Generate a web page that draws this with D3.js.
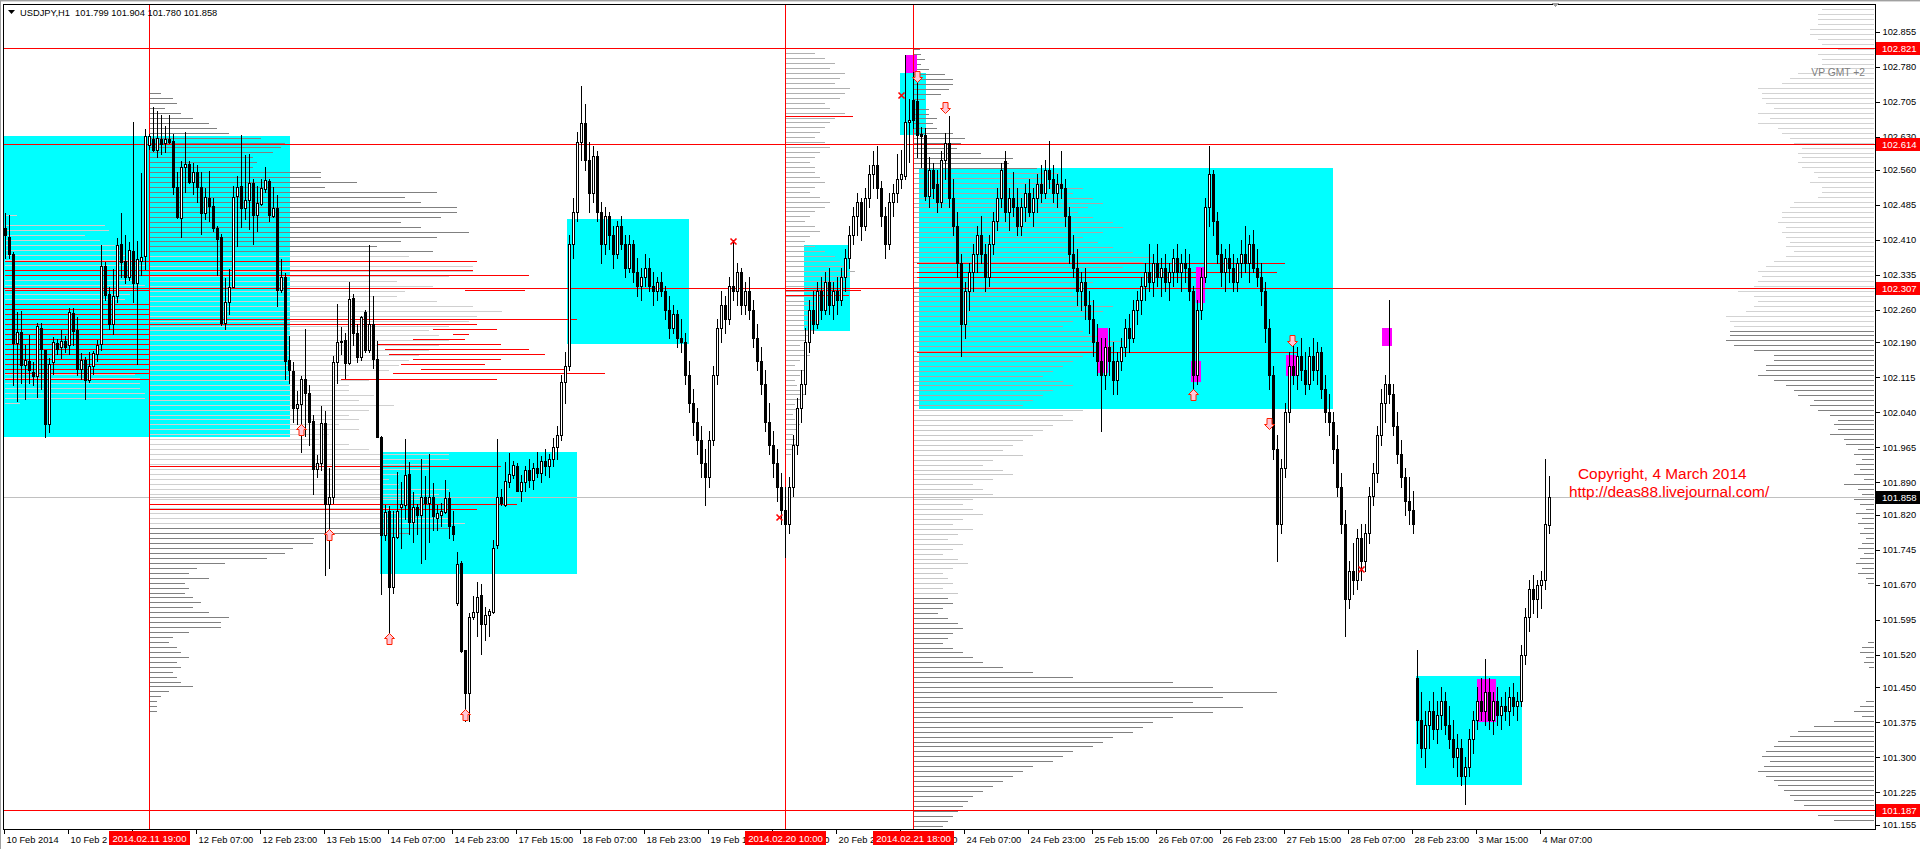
<!DOCTYPE html>
<html><head><meta charset="utf-8">
<script src="https://cdn.jsdelivr.net/npm/d3@7"></script>
<style>body{margin:0;background:#fff;overflow:hidden}svg{display:block}</style>
</head><body><svg id="c" width="1920" height="849"></svg>
<script>
// ---------- DATA ----------
const symbolTitle = "USDJPY,H1  101.799 101.904 101.780 101.858";
// hourly candles [open, high, low, close], bar 0 = 10 Feb 2014 07:00
const ohlc = [
[102.434,102.468,102.370,102.419],[102.416,102.463,102.370,102.379],[102.380,102.383,102.099,102.188],[102.188,102.254,102.063,102.212],
[102.212,102.256,102.103,102.141],[102.141,102.183,102.068,102.151],[102.149,102.205,102.103,102.130],[102.127,102.148,102.099,102.117],
[102.117,102.232,102.072,102.225],[102.221,102.232,102.090,102.176],[102.174,102.174,101.986,102.014],[102.014,102.157,101.997,102.144],
[102.148,102.201,102.121,102.190],[102.188,102.197,102.165,102.176],[102.179,102.216,102.157,102.192],[102.192,102.203,102.170,102.179],
[102.183,102.263,102.165,102.254],[102.252,102.263,102.183,102.213],[102.216,102.245,102.119,102.132],[102.133,102.167,102.112,102.151],
[102.151,102.158,102.068,102.110],[102.110,102.170,102.105,102.139],[102.139,102.172,102.121,102.167],[102.165,102.194,102.149,102.183],
[102.187,102.398,102.174,102.353],[102.353,102.361,102.281,102.292],[102.293,102.308,102.219,102.228],[102.228,102.348,102.208,102.288],
[102.288,102.414,102.277,102.398],[102.400,102.468,102.330,102.361],[102.364,102.419,102.317,102.330],[102.330,102.405,102.324,102.388],
[102.385,102.663,102.277,102.317],[102.317,102.407,102.144,102.368],[102.364,102.552,102.334,102.372],[102.374,102.647,102.348,102.632],
[102.612,102.637,102.605,102.632],[102.626,102.694,102.599,102.603],[102.601,102.686,102.588,102.628],[102.626,102.677,102.594,102.614],
[102.617,102.654,102.597,102.626],[102.626,102.677,102.617,102.619],[102.621,102.637,102.508,102.523],[102.523,102.555,102.457,102.459],
[102.457,102.579,102.416,102.565],[102.565,102.641,102.512,102.571],[102.571,102.579,102.532,102.534],[102.534,102.574,102.508,102.555],
[102.555,102.570,102.490,102.523],[102.523,102.555,102.421,102.468],[102.468,102.521,102.454,102.501],[102.500,102.557,102.450,102.483],
[102.483,102.499,102.428,102.434],[102.434,102.439,102.334,102.412],[102.416,102.423,102.226,102.232],[102.232,102.327,102.219,102.277],
[102.277,102.348,102.250,102.309],[102.309,102.525,102.309,102.501],[102.503,102.546,102.397,102.523],[102.525,102.634,102.437,102.478],
[102.478,102.592,102.454,102.494],[102.494,102.594,102.432,102.532],[102.532,102.539,102.401,102.463],[102.463,102.525,102.428,102.488],
[102.487,102.539,102.485,102.521],[102.519,102.565,102.512,102.538],[102.536,102.539,102.450,102.462],[102.460,102.523,102.459,102.478],
[102.478,102.505,102.268,102.301],[102.301,102.368,102.297,102.330],[102.330,102.339,102.112,102.149],[102.151,102.203,102.103,102.130],
[102.128,102.148,102.019,102.048],[102.048,102.085,102.014,102.057],[102.057,102.117,101.954,102.112],[102.112,102.219,101.988,102.081],
[102.081,102.099,101.970,102.019],[102.021,102.034,101.865,101.919],[101.919,101.948,101.900,101.930],[101.930,102.054,101.917,102.016],
[102.016,102.043,101.692,101.844],[101.844,101.921,101.705,101.859],[101.859,102.161,101.845,102.148],[102.148,102.272,102.103,102.190],
[102.190,102.223,102.165,102.192],[102.194,102.210,102.114,102.145],[102.145,102.318,102.143,102.283],[102.285,102.294,102.183,102.210],
[102.210,102.228,102.148,102.158],[102.158,102.247,102.152,102.245],[102.254,102.259,102.170,102.173],[102.173,102.398,102.170,102.228],
[102.228,102.290,102.134,102.155],[102.155,102.192,101.986,101.986],[101.986,101.988,101.650,101.776],[101.776,101.841,101.767,101.826],
[101.828,101.838,101.561,101.666],[101.666,101.828,101.652,101.772],[101.772,101.912,101.770,101.829],[101.836,101.890,101.748,101.844],
[101.841,101.983,101.810,101.906],[101.908,101.934,101.779,101.805],[101.805,101.868,101.761,101.836],[101.836,101.844,101.779,101.820],
[101.819,101.939,101.716,101.859],[101.859,101.903,101.725,101.845],[101.845,101.950,101.761,101.859],[101.859,101.888,101.788,101.817],
[101.814,101.841,101.788,101.823],[101.819,101.845,101.797,101.828],[101.826,101.894,101.823,101.856],[101.856,101.868,101.770,101.796],
[101.796,101.828,101.765,101.779],[101.630,101.740,101.627,101.714],[101.717,101.721,101.525,101.527],[101.530,101.530,101.379,101.438],
[101.438,101.610,101.379,101.601],[101.601,101.645,101.596,101.612],[101.612,101.676,101.561,101.643],[101.648,101.672,101.521,101.586],
[101.586,101.623,101.552,101.605],[101.605,101.619,101.561,101.614],[101.612,101.767,101.610,101.749],[101.755,101.983,101.748,101.859],
[101.859,101.876,101.841,101.845],[101.841,101.934,101.838,101.892],[101.890,101.952,101.879,101.908],[101.906,101.936,101.899,101.927],
[101.925,101.930,101.872,101.872],
// 129
[101.872,101.905,101.850,101.890],[101.890,101.925,101.870,101.915],[101.915,101.940,101.880,101.895],[101.895,101.930,101.875,101.920],
[101.920,101.955,101.900,101.910],[101.910,101.945,101.890,101.935],[101.935,101.960,101.905,101.925],[101.925,101.950,101.900,101.940],
[101.940,101.985,101.925,101.965],[101.965,102.010,101.940,101.990],[101.990,102.120,101.980,102.105],[102.105,102.170,102.060,102.140],
// 141
[102.140,102.420,102.130,102.400],[102.400,102.500,102.370,102.470],[102.470,102.640,102.450,102.620],[102.620,102.740,102.580,102.660],
[102.660,102.700,102.560,102.580],[102.580,102.620,102.470,102.510],[102.510,102.610,102.490,102.590],[102.590,102.600,102.450,102.470],
[102.470,102.490,102.360,102.400],[102.400,102.480,102.380,102.460],[102.460,102.470,102.390,102.420],[102.420,102.440,102.350,102.380],
[102.380,102.450,102.370,102.440],[102.440,102.460,102.390,102.400],[102.400,102.420,102.330,102.350],[102.350,102.420,102.340,102.400],
[102.400,102.410,102.320,102.340],[102.340,102.370,102.290,102.310],[102.310,102.350,102.280,102.330],[102.330,102.380,102.310,102.350],
// 161
[102.350,102.370,102.300,102.310],[102.310,102.340,102.270,102.300],[102.300,102.330,102.280,102.320],[102.320,102.340,102.290,102.300],
[102.300,102.310,102.240,102.260],[102.260,102.290,102.200,102.220],[102.220,102.270,102.210,102.250],[102.250,102.260,102.180,102.200],
[102.200,102.240,102.170,102.190],[102.190,102.210,102.100,102.120],[102.120,102.150,102.040,102.060],[102.060,102.090,101.990,102.020],
[102.020,102.050,101.950,101.980],[101.980,102.010,101.900,101.930],[101.930,101.960,101.840,101.900],[101.900,102.000,101.880,101.980],
[101.980,102.140,101.970,102.120],[102.120,102.240,102.100,102.220],[102.220,102.300,102.190,102.270],[102.270,102.290,102.210,102.240],
// 181
[102.240,102.330,102.230,102.310],[102.310,102.410,102.280,102.300],[102.300,102.360,102.270,102.340],[102.340,102.350,102.250,102.270],
[102.270,102.320,102.250,102.300],[102.300,102.330,102.240,102.260],[102.260,102.280,102.180,102.200],[102.200,102.230,102.130,102.150],
[102.150,102.180,102.080,102.100],[102.100,102.130,102.000,102.020],[102.020,102.060,101.950,101.970],[101.970,102.000,101.900,101.930],
[101.930,101.960,101.850,101.880],[101.880,101.910,101.800,101.830],[101.830,101.880,101.730,101.800],[101.800,101.900,101.780,101.880],
[101.880,101.990,101.860,101.970],[101.970,102.070,101.950,102.050],[102.050,102.130,102.020,102.100],[102.100,102.220,102.080,102.190],
// 201
[102.190,102.280,102.170,102.260],[102.260,102.300,102.210,102.230],[102.230,102.320,102.220,102.300],[102.300,102.330,102.240,102.260],
[102.260,102.340,102.250,102.320],[102.320,102.350,102.250,102.270],[102.270,102.320,102.240,102.300],[102.300,102.330,102.250,102.280],
[102.280,102.350,102.270,102.330],[102.330,102.390,102.300,102.370],[102.370,102.440,102.350,102.420],[102.420,102.480,102.400,102.460],
[102.460,102.510,102.420,102.490],[102.490,102.500,102.410,102.440],[102.440,102.520,102.430,102.500],[102.500,102.570,102.480,102.550],
[102.550,102.600,102.520,102.570],[102.570,102.610,102.500,102.520],[102.520,102.535,102.440,102.460],[102.460,102.480,102.370,102.400],
// 221
[102.400,102.510,102.390,102.490],[102.490,102.530,102.460,102.510],[102.510,102.594,102.490,102.540],[102.540,102.603,102.520,102.551],
[102.546,102.806,102.540,102.663],[102.663,102.711,102.576,102.667],[102.709,102.770,102.650,102.666],[102.707,102.750,102.587,102.634],
[102.636,102.651,102.566,102.632],[102.634,102.649,102.495,102.503],[102.503,102.587,102.480,102.560],[102.560,102.575,102.500,102.520],
// 233 (24 Feb)
[102.530,102.560,102.470,102.490],[102.490,102.600,102.480,102.580],[102.580,102.638,102.540,102.617],[102.617,102.675,102.480,102.500],
[102.500,102.540,102.420,102.440],[102.440,102.470,102.330,102.360],[102.360,102.380,102.160,102.230],[102.230,102.320,102.200,102.300],
// 241
[102.300,102.360,102.260,102.340],[102.340,102.400,102.300,102.380],[102.380,102.440,102.340,102.420],[102.420,102.460,102.360,102.380],
[102.380,102.400,102.300,102.330],[102.330,102.420,102.310,102.400],[102.400,102.470,102.380,102.450],[102.450,102.520,102.430,102.500],
[102.500,102.574,102.480,102.560],[102.578,102.600,102.450,102.470],[102.470,102.520,102.430,102.500],[102.500,102.555,102.460,102.480],
[102.480,102.520,102.420,102.440],[102.440,102.500,102.420,102.480],[102.480,102.530,102.450,102.510],[102.510,102.540,102.460,102.470],
[102.470,102.520,102.440,102.500],[102.500,102.550,102.470,102.530],[102.530,102.570,102.490,102.510],[102.510,102.580,102.500,102.560],
// 261
[102.560,102.621,102.520,102.540],[102.540,102.570,102.490,102.510],[102.510,102.550,102.480,102.530],[102.530,102.600,102.500,102.520],
[102.520,102.540,102.440,102.460],[102.460,102.480,102.360,102.380],[102.380,102.420,102.330,102.350],[102.350,102.390,102.270,102.300],
[102.300,102.340,102.260,102.320],[102.320,102.350,102.240,102.270],[102.270,102.300,102.210,102.240],[102.240,102.280,102.160,102.190],
[102.190,102.230,102.120,102.150],[102.150,102.200,102.000,102.120],[102.120,102.200,102.090,102.180],[102.180,102.220,102.120,102.150],
[102.150,102.190,102.080,102.110],[102.110,102.170,102.080,102.150],[102.150,102.200,102.130,102.180],[102.180,102.240,102.160,102.220],
// 281
[102.220,102.250,102.170,102.200],[102.200,102.280,102.190,102.260],[102.260,102.300,102.230,102.280],[102.280,102.330,102.250,102.310],
[102.310,102.360,102.280,102.340],[102.340,102.400,102.300,102.320],[102.320,102.380,102.290,102.360],[102.360,102.400,102.310,102.330],
[102.330,102.370,102.290,102.350],[102.350,102.380,102.300,102.320],[102.320,102.360,102.280,102.340],[102.340,102.390,102.310,102.370],
[102.370,102.400,102.320,102.340],[102.340,102.380,102.300,102.360],[102.360,102.390,102.320,102.350],[102.350,102.380,102.280,102.300],
[102.300,102.310,102.080,102.120],[102.120,102.280,102.100,102.260],[102.260,102.350,102.240,102.330],[102.330,102.500,102.320,102.480],
// 301
[102.480,102.610,102.440,102.550],[102.550,102.560,102.420,102.450],[102.450,102.470,102.360,102.380],[102.380,102.400,102.310,102.340],
[102.340,102.390,102.300,102.370],[102.370,102.400,102.320,102.350],[102.350,102.380,102.300,102.320],[102.320,102.370,102.300,102.360],
[102.360,102.410,102.330,102.380],[102.380,102.440,102.340,102.360],[102.360,102.420,102.320,102.400],[102.400,102.430,102.340,102.350],
[102.350,102.390,102.310,102.330],[102.330,102.360,102.270,102.300],[102.300,102.320,102.190,102.220],[102.220,102.240,102.090,102.120],
[102.120,102.140,101.940,101.960],[101.960,101.990,101.720,101.800],[101.800,101.940,101.780,101.920],[101.920,102.060,101.900,102.040],
// 321
[102.040,102.170,102.020,102.140],[102.140,102.190,102.100,102.120],[102.120,102.180,102.090,102.160],[102.160,102.200,102.110,102.130],
[102.130,102.170,102.080,102.100],[102.100,102.180,102.090,102.160],[102.160,102.200,102.110,102.130],[102.130,102.190,102.100,102.170],
[102.170,102.180,102.070,102.090],[102.090,102.120,102.020,102.040],[102.040,102.080,101.990,102.020],[102.020,102.040,101.930,101.960],
[101.960,101.990,101.860,101.880],[101.880,101.910,101.780,101.800],[101.800,101.830,101.560,101.640],[101.640,101.720,101.620,101.700],
[101.700,101.760,101.650,101.680],[101.680,101.790,101.660,101.770],[101.770,101.800,101.680,101.720],[101.720,101.800,101.700,101.780],
// 341
[101.780,101.880,101.760,101.860],[101.860,101.930,101.840,101.910],[101.910,102.010,101.890,101.990],[101.990,102.090,101.970,102.060],
[102.060,102.120,102.020,102.100],[102.100,102.280,102.060,102.080],[102.080,102.100,101.990,102.010],[102.010,102.040,101.930,101.950],
[101.950,101.980,101.880,101.900],[101.900,101.920,101.820,101.850],[101.850,101.900,101.800,101.830],[101.830,101.870,101.780,101.800],
// 353 (3 Mar)
[101.470,101.530,101.330,101.380],[101.380,101.440,101.300,101.320],[101.320,101.400,101.280,101.370],[101.370,101.420,101.320,101.400],
[101.400,101.440,101.340,101.360],[101.360,101.420,101.330,101.390],[101.390,101.450,101.360,101.420],[101.420,101.440,101.350,101.370],
// 361
[101.370,101.410,101.320,101.340],[101.340,101.380,101.280,101.300],[101.300,101.350,101.260,101.320],[101.320,101.340,101.240,101.260],
[101.260,101.300,101.200,101.280],[101.280,101.360,101.260,101.340],[101.340,101.400,101.310,101.380],[101.380,101.450,101.360,101.420],
[101.420,101.470,101.380,101.400],[101.400,101.510,101.370,101.440],[101.440,101.470,101.360,101.380],[101.380,101.440,101.350,101.420],
[101.420,101.450,101.370,101.390],[101.390,101.430,101.360,101.410],[101.410,101.440,101.380,101.400],[101.400,101.450,101.370,101.430],
// 377 (4 Mar)
[101.430,101.460,101.390,101.410],[101.410,101.440,101.380,101.420],[101.420,101.540,101.410,101.520],[101.520,101.620,101.500,101.600],
[101.600,101.680,101.570,101.660],[101.660,101.690,101.610,101.640],[101.640,101.680,101.600,101.670],[101.670,101.700,101.620,101.680],
[101.680,101.940,101.660,101.800],[101.799,101.904,101.780,101.858]
];
const priceTicks = [102.855,102.780,102.705,102.630,102.560,102.485,102.410,102.335,102.260,102.190,102.115,102.040,101.965,101.890,101.820,101.745,101.670,101.595,101.520,101.450,101.375,101.300,101.225,101.155];
const timeTickBars = [0,16,32,48,64,80,96,112,128,144,160,176,192,208,224,240,256,272,288,304,320,336,352,368,384];
const timeTickLabels = ["10 Feb 2014","10 Feb 23:00","11 Feb 15:00","12 Feb 07:00","12 Feb 23:00","13 Feb 15:00","14 Feb 07:00","14 Feb 23:00","17 Feb 15:00","18 Feb 07:00","18 Feb 23:00","19 Feb 15:00","20 Feb 07:00","20 Feb 23:00","21 Feb 15:00","24 Feb 07:00","24 Feb 23:00","25 Feb 15:00","26 Feb 07:00","26 Feb 23:00","27 Feb 15:00","28 Feb 07:00","28 Feb 23:00","3 Mar 15:00","4 Mar 07:00"];
const markerBars = [36,195,227];
const markerLabels = ["2014.02.11 19:00","2014.02.20 10:00","2014.02.21 18:00"];
const levelPrices = [102.821,102.614,102.307,101.187];
const lastPrice = 101.858;
// value-area boxes [startBar, endBar, top, bottom]
const cyanBoxes = [[-0.25,71,102.632,101.986],[94,142.75,101.955,101.694],[140.75,170.75,102.454,102.186],[200,211,102.398,102.215],[224,230,102.767,102.634],[228.75,331.75,102.564,102.047],[353,379,101.475,101.241]];
const magentaBoxes = [[225,228,102.806,102.767],[273.25,275.75,102.220,102.123],[296.5,299,102.149,102.104],[297.75,300,102.351,102.275],[320.25,322.75,102.162,102.117],[344.25,346.75,102.220,102.181],[368,372.75,101.467,101.375]];
// red level segments [price, startBar, endBar]
const redSegs = [[102.364,0,118],[102.344,0,117],[102.334,0,131],[102.301,0,36],[102.301,115,130],[102.272,0,36],[102.261,0,36],[102.250,0,36],[102.239,0,143],[102.229,0,118],[102.218,0,36],[102.218,107,123],[102.207,0,36],[102.207,112,116],[102.197,0,36],[102.197,102,115],[102.186,0,36],[102.186,93,124],[102.175,0,36],[102.175,95,131],[102.165,0,36],[102.165,96,135],[102.155,0,36],[102.155,102,124],[102.144,0,36],[102.144,99,120],[102.133,0,36],[102.133,104,140],[102.123,0,36],[102.123,97,150],[102.112,0,36],[102.112,84,123],[101.925,36,124],[101.844,36,128],[101.832,36,118],
[102.674,195,212],[102.301,195,214],[102.291,195,211],[102.359,228,320],[102.341,228,318],[102.330,228,300],[102.170,228,323]];
// volume profiles: volume (px) per 0.0106 price row, counted down from the top price
const profStep = 0.0106;
const prof0 = {bar:0, top:102.462, vals:[12,0,100,104,80,95,110,115,120,130,140,130,130,130,140,130,125,120,115,110,115,120,125,130,120,115,110,105,100,110,120,125,130,135,135,135,140,140,15]};
const prof1 = {bar:36, top:102.724, vals:[12,24,28,16,32,44,60,68,80,112,136,132,124,104,108,104,172,172,208,176,288,256,272,308,308,292,252,272,320,288,252,228,284,260,328,324,324,300,248,284,256,248,288,324,353,328,320,300,280,290,300,290,280,270,260,250,240,200,220,200,200,225,210,245,220,200,210,190,210,180,170,200,220,300,300,280,280,250,240,250,300,290,280,280,240,250,300,316,300,260,165,164,144,136,118,76,48,40,60,36,40,36,44,52,44,60,80,72,72,40,24,20,28,32,40,28,32,24,28,32,44,20,12,8,8,8]};
const prof2 = {bar:195, top:102.820, vals:[20,30,40,50,45,60,55,50,65,60,55,40,45,60,50,45,40,35,30,40,45,35,30,25,30,30,35,40,30,25,35,45,40,30,25,20,30,35,25,20,30,40,50,55,60,70,65,60,50,45,40,35,30,25,30,35,25,30,25,20,15,20,25,15,10,20,15,10,12,15,20,15,10,12,8,10,15,12,8,10,12,8,6]};
const prof3 = {bar:227, top:102.818, vals:[7,8,12,8,16,32,40,40,36,28,12,0,16,16,24,20,24,40,52,48,44,68,100,96,124,
146,130,150,170,160,180,190,175,165,180,200,210,190,170,185,200,220,240,230,210,200,190,180,170,
160,170,180,200,190,175,160,150,170,190,210,200,180,170,160,150,140,130,150,160,140,130,120,110,
170,150,160,140,130,120,110,100,90,110,80,70,90,100,80,60,70,80,60,50,60,70,
50,40,60,45,35,50,40,30,45,55,40,30,35,40,30,45,35,40,30,25,35,45,50,40,35,30,40,50,60,70,90,
120,160,260,300,364,310,280,330,300,260,240,230,220,200,190,180,160,150,140,120,110,100,90,80,70,
60,55,50,45,40,35,30,25,20,15]};
const prof4 = {top:102.904, vals:[52,56,56,56,64,64,56,52,36,56,52,52,60,76,84,92,116,112,112,108,100,116,104,116,96,92,84,80,72,76,72,76,72,60,56,64,52,52,56,80,84,92,92,96,88,92,88,84,88,80,88,100,108,116,112,116,120,136,120,116,120,128,148,144,140,144,144,148,140,120,100,100,108,108,116,100,88,80,76,60,64,56,44,36,
40,36,44,30,28,16,20,12,18,14,20,10,30,16,12,20,14,8,18,12,16,10,14,8,12,16,10,14,18,12,16,8,6,
0,0,0,0,0,0,0,0,0,0,0,6,12,14,8,10,5,0,0,0,0,0,0,
8,14,20,12,40,60,76,84,96,100,108,112,104,110,116,108,100,96,90,84,80,70,64,56,40]};
const upArrows = [[74,102.015],[81,101.790],[96,101.566],[115,101.404],[297,102.089]];
const downArrows = [[235,102.681],[228,102.748],[321.75,102.182],[316,102.005]];
const crossMarks = [[224,102.72],[182,102.407],[193.5,101.815],[339,101.704]];
const copyright = ["Copyright, 4 March 2014","http://deas88.livejournal.com/"];

// ---------- DRAW ----------
const FONT = "'Liberation Sans',Arial,sans-serif";
const svg = d3.select("#c");
const PL=3, PR=1875, PT=4, PB=829;
const N = ohlc.length;
const x = d3.scaleLinear().domain([0,N-1]).range([5,5+4*(N-1)]);
const y = d3.scaleLinear().domain([101.155,102.855]).range([825,32]);
const px = v => Math.round(x(v));
const py = v => Math.round(y(v));
svg.append("rect").attr("width",1920).attr("height",849).attr("fill","#fff");
const g = svg.append("g").attr("shape-rendering","crispEdges");

g.selectAll(".cy").data(cyanBoxes).join("rect")
 .attr("x",d=>px(d[0])-1).attr("width",d=>px(d[1])-px(d[0])+2)
 .attr("y",d=>py(d[2])).attr("height",d=>py(d[3])-py(d[2])).attr("fill","#00ffff");

function drawProfile(p, anchor, dir, colorFn){
  const rows = p.vals.map((v,i)=>({v, price:p.top - i*profStep, i})).filter(r=>r.v>0 && r.price>101.14);
  g.append("g").selectAll("line").data(rows).join("line")
   .attr("x1",anchor).attr("x2",r=>anchor+dir*r.v)
   .attr("y1",r=>py(r.price)+0.5).attr("y2",r=>py(r.price)+0.5)
   .attr("stroke",r=>colorFn(r));
}
drawProfile(prof0, px(prof0.bar), 1, ()=>"#d0d0d0");
drawProfile(prof1, px(prof1.bar), 1, r=> (r.i<33||r.i>=88)?"#808080":"#d0d0d0");
drawProfile(prof2, px(prof2.bar), 1, ()=>"#b0b0b0");
drawProfile(prof3, px(prof3.bar), 1, r=> (r.i<25||r.i>=111)?"#808080":(r.i<73?"#a8a8a8":"#c8c8c8"));
drawProfile(prof4, 1874, -1, r=> r.i<65?"#d3d3d3":"#808080");

g.selectAll(".rs").data(redSegs).join("line")
 .attr("x1",d=>px(d[1])).attr("x2",d=>px(d[2]))
 .attr("y1",d=>py(d[0])+0.5).attr("y2",d=>py(d[0])+0.5).attr("stroke","#ff0000");

g.selectAll(".mg").data(magentaBoxes).join("rect")
 .attr("x",d=>px(d[0])).attr("width",d=>px(d[1])-px(d[0]))
 .attr("y",d=>py(d[2])).attr("height",d=>py(d[3])-py(d[2])).attr("fill","#ff00ff");

g.append("line").attr("x1",PL).attr("x2",PR).attr("y1",py(lastPrice)+0.5).attr("y2",py(lastPrice)+0.5).attr("stroke","#c0c0c0");
g.selectAll(".lv").data(levelPrices).join("line")
 .attr("x1",PL).attr("x2",PR).attr("y1",d=>py(d)+0.5).attr("y2",d=>py(d)+0.5).attr("stroke","#ff0000");
g.selectAll(".vm").data(markerBars).join("line")
 .attr("x1",d=>px(d)+0.5).attr("x2",d=>px(d)+0.5).attr("y1",PT).attr("y2",PB).attr("stroke","#ff0000");

// candles
const cg = g.append("g");
const cdata = ohlc.map((d,i)=>({i,o:d[0],h:d[1],l:d[2],c:d[3]}));
cg.selectAll("line").data(cdata).join("line")
 .attr("x1",d=>px(d.i)+0.5).attr("x2",d=>px(d.i)+0.5)
 .attr("y1",d=>py(d.h)).attr("y2",d=>py(d.l)+1).attr("stroke","#000");
cg.selectAll("rect").data(cdata).join("rect")
 .attr("x",d=>px(d.i)-0.5).attr("width",2)
 .attr("y",d=>py(Math.max(d.o,d.c))+0.5)
 .attr("height",d=>Math.max(0,py(Math.min(d.o,d.c))-py(Math.max(d.o,d.c))))
 .attr("fill",d=>d.c>=d.o?"#fff":"#000").attr("stroke","#000");

// arrows / marks
const arrowUp = "M0,0 L5,5 L2.5,5 L2.5,11 L-2.5,11 L-2.5,5 L-5,5 Z";
const arrowDn = "M0,0 L5,-5 L2.5,-5 L2.5,-11 L-2.5,-11 L-2.5,-5 L-5,-5 Z";
svg.selectAll(".ua").data(upArrows).join("path").attr("d",arrowUp)
 .attr("transform",d=>`translate(${px(d[0])+0.5},${py(d[1])+0.5})`).attr("fill","#ffc8d8").attr("stroke","#ff2000");
svg.selectAll(".da").data(downArrows).join("path").attr("d",arrowDn)
 .attr("transform",d=>`translate(${px(d[0])+0.5},${py(d[1])+0.5})`).attr("fill","#ffc8d8").attr("stroke","#ff2000");
svg.selectAll(".xm").data(crossMarks).join("path").attr("d","M-3,-3L3,3M3,-3L-3,3")
 .attr("transform",d=>`translate(${px(d[0])+0.5},${py(d[1])+0.5})`).attr("stroke","#ff0000").attr("stroke-width",1.6);

// frame
g.append("line").attr("x1",0).attr("x2",1920).attr("y1",0.5).attr("y2",0.5).attr("stroke","#a0a0a0");
g.append("line").attr("x1",0).attr("x2",1920).attr("y1",1.5).attr("y2",1.5).attr("stroke","#d8d8d8");
g.append("line").attr("x1",PL+0.5).attr("x2",PL+0.5).attr("y1",PT).attr("y2",PB).attr("stroke","#000");
g.append("line").attr("x1",PL).attr("x2",PR+1).attr("y1",PT+0.5).attr("y2",PT+0.5).attr("stroke","#000");
g.append("line").attr("x1",0.5).attr("x2",0.5).attr("y1",0).attr("y2",849).attr("stroke","#a0a0a0");
g.append("path").attr("d","M1551,3 L1559,3 L1555,7 Z").attr("fill","#a0a0a0");

// price axis
const yAxis = d3.axisRight(y).tickValues(priceTicks).tickSize(4).tickPadding(3).tickFormat(d3.format(".3f"));
const ya = svg.append("g").attr("transform",`translate(${PR+0.5},0)`).call(yAxis);
ya.select(".domain").attr("d",`M0,${PT}V${PB}`).attr("stroke","#000").attr("shape-rendering","crispEdges");
ya.selectAll(".tick line").attr("stroke","#000").attr("shape-rendering","crispEdges");
ya.selectAll(".tick text").attr("font-family",FONT).attr("font-size","9.3px").attr("fill","#000");

// time axis (labels partly hidden by the red marker labels, as in the terminal)
const xa = svg.append("g").attr("transform",`translate(0,${PB+0.5})`);
xa.append("line").attr("x1",PL).attr("x2",PR+1).attr("stroke","#000").attr("shape-rendering","crispEdges");
const boxes = markerBars.map(b=>[px(b)-40, px(b)+41]);
const meas = svg.append("text").attr("font-family",FONT).attr("font-size","9.3px").attr("visibility","hidden");
const tw = s => { meas.text(s); return meas.node().getComputedTextLength(); };
const tickItems = timeTickBars.map((b,i)=>{
  const x0 = px(b)+1.5; let s = timeTickLabels[i], tx = x0;
  const w = tw(s);
  for (const [b0,b1] of boxes){
    if (x0 < b1 && x0 + w > b0){
      if (x0 < b0){ while(s.length && x0 + tw(s) > b0 + 3) s = s.slice(0,-1); }
      else { let k=0; while(k<=s.length && x0 + tw(s.slice(0,k)) < b1-3) k++; tx = x0 + tw(s.slice(0,k)); s = s.slice(k); }
    }
  }
  return {b, s, tx};
});
meas.remove();
const tt = xa.selectAll(".tt").data(tickItems).join("g");
tt.append("line").attr("x1",d=>px(d.b)-1).attr("x2",d=>px(d.b)-1).attr("y2",4).attr("stroke","#000").attr("shape-rendering","crispEdges");
tt.filter(d=>d.s.length>0).append("text").attr("x",d=>d.tx).attr("y",13).text(d=>d.s).attr("font-family",FONT).attr("font-size","9.3px").attr("fill","#000");

const ml = svg.selectAll(".ml").data(markerBars.map((b,i)=>({b,l:markerLabels[i]}))).join("g").attr("transform",d=>`translate(${px(d.b)},${PB+2})`);
ml.append("rect").attr("x",-40).attr("y",0).attr("width",81).attr("height",14).attr("fill","#ff0000");
ml.append("text").attr("x",0.5).attr("y",10.5).attr("text-anchor","middle").text(d=>d.l).attr("font-family",FONT).attr("font-size","9.6px").attr("fill","#fff");

const pl = svg.selectAll(".pl").data(levelPrices.map(p=>({p,bg:"#ff0000"})).concat([{p:lastPrice,bg:"#000"}])).join("g").attr("transform",d=>`translate(${PR+1},${py(d.p)})`);
pl.append("rect").attr("x",0).attr("y",-6).attr("width",44).attr("height",13).attr("fill",d=>d.bg);
pl.append("text").attr("x",6).attr("y",4).text(d=>d.p.toFixed(3)).attr("font-family",FONT).attr("font-size","9.6px").attr("fill","#fff");

// header & texts
svg.append("path").attr("d","M8,10 L15,10 L11.5,14 Z").attr("fill","#000");
svg.append("text").attr("x",20).attr("y",16).text(symbolTitle).attr("font-family",FONT).attr("font-size","9.3px").attr("fill","#000").style("white-space","pre");
svg.append("text").attr("x",1865).attr("y",76).attr("text-anchor","end").text("VP GMT +2").attr("font-family",FONT).attr("font-size","10.3px").attr("fill","#808080");
svg.selectAll(".cp").data(copyright).join("text").attr("x",(d,i)=>i?1569:1578).attr("y",(d,i)=>i?497:479).text(d=>d)
 .attr("font-family",FONT).attr("font-size","15.4px").attr("fill","#ff0000");
</script></body></html>
